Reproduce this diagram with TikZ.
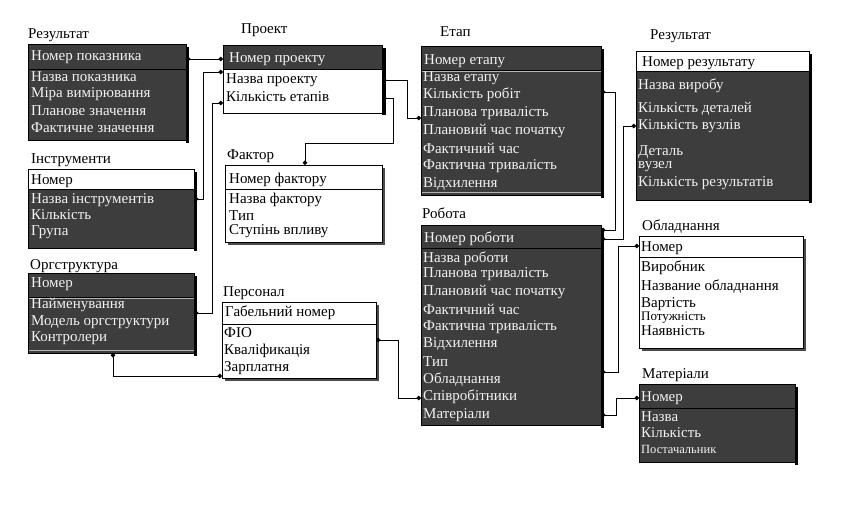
\documentclass[tikz,border=0pt]{standalone}
\usepackage{fontspec}
\setmainfont{Liberation Serif}
\usetikzlibrary{arrows.meta,shadows}
\definecolor{entdark}{HTML}{3D3D3D}
\definecolor{enttext}{HTML}{F2F2F2}
\definecolor{sepgray}{HTML}{B4B4B4}
\begin{document}
\begin{tikzpicture}[x=1pt, y=-1pt,
  font=\fontsize{15}{17}\selectfont,
  ent/.style={rectangle, draw=black, line width=0.8pt, anchor=north west,
    inner sep=0pt, outer sep=0pt},
  % dark entity, black key separator
  darkbox/.style={ent, fill=entdark, path picture={
    \draw[line width=0.9pt, black]
      ([yshift=-#1]path picture bounding box.north west) --
      ([yshift=-#1]path picture bounding box.north east);}},
  % dark entity with light rules under the key and at the bottom
  darkboxlit/.style={ent, fill=entdark, path picture={
    \draw[line width=0.9pt, black]
      ([yshift=-#1]path picture bounding box.north west) --
      ([yshift=-#1]path picture bounding box.north east);
    \draw[line width=0.9pt, sepgray]
      ([yshift=-#1-1.6pt]path picture bounding box.north west) --
      ([yshift=-#1-1.6pt]path picture bounding box.north east);
    \draw[line width=0.9pt, sepgray]
      ([yshift=2.2pt]path picture bounding box.south west) --
      ([yshift=2.2pt]path picture bounding box.south east);}},
  % white key part, dark attribute part
  whitehead/.style={ent, fill=entdark, path picture={
    \fill[white] (path picture bounding box.north west) rectangle
      ([yshift=-#1]path picture bounding box.north east);
    \draw[line width=0.9pt, black]
      ([yshift=-#1]path picture bounding box.north west) --
      ([yshift=-#1]path picture bounding box.north east);}},
  % dark key part, white attribute part
  darkhead/.style={ent, fill=white, path picture={
    \fill[entdark] (path picture bounding box.north west) rectangle
      ([yshift=-#1]path picture bounding box.north east);
    \draw[line width=0.9pt, black]
      ([yshift=-#1]path picture bounding box.north west) --
      ([yshift=-#1]path picture bounding box.north east);}},
  % white entity with drop shadow
  whitebox/.style={ent, fill=white,
    drop shadow={shadow xshift=3pt, shadow yshift=-3pt, fill=black!70, opacity=1},
    path picture={
    \draw[line width=0.9pt, black]
      ([yshift=-#1]path picture bounding box.north west) --
      ([yshift=-#1]path picture bounding box.north east);}},
  strip/.style={fill=black},
  title/.style={anchor=west, inner sep=0pt, text=black},
  drow/.style={anchor=west, inner sep=0pt, text=enttext},
  lrow/.style={anchor=west, inner sep=0pt, text=black},
  small/.style={font=\fontsize{13}{15}\selectfont},
  tiny/.style={font=\fontsize{12.5}{14}\selectfont},
  link/.style={line width=0.7pt, {Circle[length=4.5pt]}-{Circle[length=4.5pt]}},
]
\useasboundingbox[fill=white] (0,0) rectangle (855,531);

% ---------- Результат (показники) ----------
\node[title] (tResL) at (28,35) {Результат};
\node[darkbox=25pt, minimum width=158pt, minimum height=96pt] (resL) at (28,44) {};
\fill[strip] ([yshift=-3pt]resL.north east) rectangle ([xshift=3pt,yshift=-3pt]resL.south east);
\node[drow] (resL1) at (31,57) {Номер показника};
\node[drow] (resL2) at (31,77) {Назва показника};
\node[drow] (resL3) at (31,94) {Міра вимірювання};
\node[drow] (resL4) at (31,111) {Планове значення};
\node[drow] (resL5) at (31,128) {Фактичне значення};

% ---------- Проект ----------
\node[title] (tProj) at (241,30) {Проект};
\node[darkhead=24pt, minimum width=159pt, minimum height=68pt] (proj) at (223,45) {};
\fill[strip] ([yshift=-3pt]proj.north east) rectangle ([xshift=4pt,yshift=-2pt]proj.south east);
\node[drow] (proj1) at (229,59) {Номер проекту};
\node[lrow] (proj2) at (226,80) {Назва проекту};
\node[lrow] (proj3) at (226,97) {Кількість етапів};

% ---------- Етап ----------
\node[title] (tEtap) at (440,32) {Етап};
\node[darkboxlit=24pt, minimum width=180pt, minimum height=149pt] (etap) at (421,46) {};
\fill[strip] ([yshift=-3pt]etap.north east) rectangle ([xshift=3pt,yshift=-3pt]etap.south east);
\node[drow] (etap1) at (424,61) {Номер етапу};
\node[drow] (etap2) at (423,78) {Назва етапу};
\node[drow] (etap3) at (423,95) {Кількість робіт};
\node[drow] (etap4) at (423,113) {Планова тривалість};
\node[drow] (etap5) at (423,131) {Плановий час початку};
\node[drow] (etap6) at (423,148) {Фактичний час};
\node[drow] (etap7) at (423,166) {Фактична тривалість};
\node[drow] (etap8) at (423,184) {Відхилення};

% ---------- Результат (вироби) ----------
\node[title] (tResR) at (650,36) {Результат};
\node[whitehead=20pt, minimum width=173pt, minimum height=149pt] (resR) at (636,51) {};
\fill[strip] ([yshift=-3pt]resR.north east) rectangle ([xshift=3pt,yshift=-3pt]resR.south east);
\node[lrow] (resR1) at (642,63) {Номер результату};
\node[drow] (resR2) at (638,86) {Назва виробу};
\node[drow] (resR3) at (638,109) {Кількість деталей};
\node[drow] (resR4) at (638,126) {Кількість вузлів};
\node[drow] (resR5) at (638,152) {Деталь};
\node[drow] (resR6) at (638,167) {вузел};
\node[drow] (resR7) at (638,183) {Кількість результатів};

% ---------- Інструменти ----------
\node[title] (tInstr) at (31,160) {Інструменти};
\node[whitehead=20pt, minimum width=166pt, minimum height=79pt] (instr) at (28,169) {};
\fill[strip] ([yshift=-3pt]instr.north east) rectangle ([xshift=3pt,yshift=-3pt]instr.south east);
\node[lrow] (instr1) at (31,181) {Номер};
\node[drow] (instr2) at (31,200) {Назва інструментів};
\node[drow] (instr3) at (31,215) {Кількість};
\node[drow] (instr4) at (31,232) {Група};

% ---------- Фактор ----------
\node[title] (tFact) at (227,156) {Фактор};
\node[whitebox=24pt, minimum width=157pt, minimum height=77pt] (fact) at (225,165) {};
\node[lrow] (fact1) at (229,180) {Номер фактору};
\node[lrow] (fact2) at (229,200) {Назва фактору};
\node[lrow] (fact3) at (229,216) {Тип};
\node[lrow] (fact4) at (229,231) {Ступінь впливу};

% ---------- Оргструктура ----------
\node[title] (tOrg) at (30,266) {Оргструктура};
\node[darkboxlit=24pt, minimum width=166pt, minimum height=80pt] (org) at (28,273) {};
\fill[strip] ([yshift=-3pt]org.north east) rectangle ([xshift=3pt,yshift=-3pt]org.south east);
\node[drow] (org1) at (31,284) {Номер};
\node[drow] (org2) at (31,305) {Найменування};
\node[drow] (org3) at (31,322) {Модель оргструктури};
\node[drow] (org4) at (31,338) {Контролери};

% ---------- Персонал ----------
\node[title] (tPers) at (223,293) {Персонал};
\node[whitebox=22pt, minimum width=154pt, minimum height=76pt] (pers) at (222,302) {};
\node[lrow] (pers1) at (225,313) {Габельний номер};
\node[lrow] (pers2) at (224,333) {ФІО};
\node[lrow] (pers3) at (224,351) {Кваліфикація};
\node[lrow] (pers4) at (224,368) {Зарплатня};

% ---------- Робота ----------
\node[title] (tRob) at (422,213) {Робота};
\node[darkbox=23pt, minimum width=180pt, minimum height=200pt] (rob) at (421,225) {};
\fill[strip] ([yshift=-3pt]rob.north east) rectangle ([xshift=3pt,yshift=-3pt]rob.south east);
\node[drow] (rob1) at (424,239) {Номер роботи};
\node[drow] (rob2) at (423,259) {Назва роботи};
\node[drow] (rob3) at (423,274) {Планова тривалість};
\node[drow] (rob4) at (423,292) {Плановий час початку};
\node[drow] (rob5) at (423,309) {Фактичний час};
\node[drow] (rob6) at (423,327) {Фактична тривалість};
\node[drow] (rob7) at (423,344) {Відхилення};
\node[drow] (rob8) at (423,362) {Тип};
\node[drow] (rob9) at (423,380) {Обладнання};
\node[drow] (rob10) at (423,397) {Співробітники};
\node[drow] (rob11) at (423,415) {Матеріали};

% ---------- Обладнання ----------
\node[title] (tObl) at (642,227) {Обладнання};
\node[whitebox=21pt, minimum width=164pt, minimum height=112pt] (obl) at (639,236) {};
\node[lrow] (obl1) at (641,248) {Номер};
\node[lrow] (obl2) at (641,268) {Виробник};
\node[lrow] (obl3) at (641,287) {Название обладнання};
\node[lrow] (obl4) at (641,304) {Вартість};
\node[lrow, small] (obl5) at (641,318) {Потужність};
\node[lrow] (obl6) at (641,331) {Наявність};

% ---------- Матеріали ----------
\node[title] (tMat) at (642,375) {Матеріали};
\node[darkbox=24pt, minimum width=156pt, minimum height=78pt] (mat) at (639,384) {};
\fill[strip] ([yshift=-3pt]mat.north east) rectangle ([xshift=3pt,yshift=-3pt]mat.south east);
\node[drow] (mat1) at (641,398) {Номер};
\node[drow] (mat2) at (641,417) {Назва};
\node[drow] (mat3) at (641,433) {Кількість};
\node[drow, tiny] (mat4) at (641,449) {Постачальник};

% ---------- зв'язки ----------
\draw[link] (resL.east |- 0,59) -- (proj.west |- 0,59);
\draw[link] (instr.east |- 0,199) -- ++(9,0) |- (proj.west |- 0,72);
\draw[link] (org.east |- 0,313) -- ++(18,0) |- (proj.west |- 0,103);
\draw[link] (org.south -| 113,0) |- (pers.west |- 0,376);
\draw[link] (proj.east |- 0,80) -- ++(25,0) |- (etap.west |- 0,118);
\draw[link] (proj.east |- 0,98) -| (393,143) -| (fact.north -| 305,0);
\draw[link] (etap.east |- 0,92) -- ++(14,0) |- (rob.east |- 0,230);
\draw[link] (rob.east |- 0,239) -- ++(22,0) |- (resR.west |- 0,126);
\draw[link] (rob.east |- 0,372) -- ++(17,0) |- (obl.west |- 0,246);
\draw[link] (rob.east |- 0,415) -- ++(15,0) |- (mat.west |- 0,398);
\draw[link] (pers.east |- 0,340) -- ++(22,0) |- (rob.west |- 0,398);
\end{tikzpicture}
\end{document}
